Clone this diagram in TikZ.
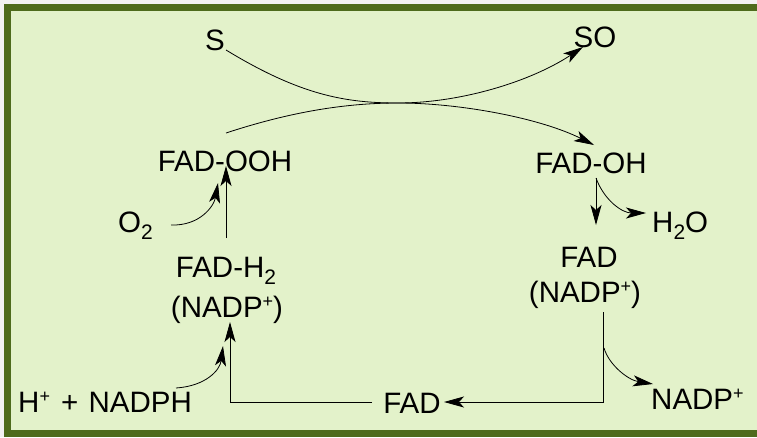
\documentclass[tikz,border=0pt]{standalone}
\usepackage{fontspec}
\setmainfont{Liberation Sans}
\usetikzlibrary{arrows.meta}
\definecolor{frameGreen}{HTML}{4E6B1C}
\definecolor{panelGreen}{HTML}{E3F2CA}
\definecolor{pageGray}{HTML}{F2F2F2}
\newcommand{\ionplus}{\raisebox{10pt}{\fontsize{18}{18}\selectfont +}}
\newcommand{\subtwo}{\raisebox{-7pt}{\fontsize{21}{21}\selectfont 2}}
\begin{document}
\begin{tikzpicture}[x=1pt,y=-1pt,
  species/.style={inner sep=0pt, anchor=base, font=\fontsize{29.5}{33}\selectfont},
  flow/.style={line width=0.8pt, -{Stealth[length=20pt,width=11pt,inset=5pt]}}]
  % page and panel: the frame is open on the right
  \useasboundingbox (0,0) rectangle (757,437);
  \fill[pageGray] (0,0) rectangle (757,437);
  \fill[panelGreen] (4,4) rectangle (757,437);
  \fill[frameGreen] (4,4) rectangle (757,11);
  \fill[frameGreen] (4,4) rectangle (11,437);
  \fill[frameGreen] (4,430) rectangle (757,437);

  % species
  \node[species] (s)      at (215,50)  {S};
  \node[species] (so)     at (595,47)  {SO};
  \node[species] (fadooh) at (225,171) {FAD-OOH};
  \node[species] (fadoh)  at (591,173) {FAD-OH};
  \node[species, anchor=base west] (water) at (652,232) {H\subtwo O};
  \node[species, anchor=base west] (oxy)   at (118,232) {O\subtwo};
  \node[species] (fadr)   at (589,267) {FAD};
  \node[species] (nadpr)  at (585,302) {(NADP\ionplus)};
  \node[species] (fadhh)  at (226,277) {FAD-H\subtwo};
  \node[species] (nadpl)  at (227,317) {(NADP\ionplus)};
  \node[species, anchor=base west] (nadph) at (18,412) {H\ionplus\hspace{3pt} +\hspace{2pt} NADPH};
  \node[species] (fadb)   at (412,413) {FAD};
  \node[species, anchor=base west] (nadpout) at (651,409) {NADP\ionplus};

  % junction and end points of the connectors
  \coordinate (sStart)   at (226,50);
  \coordinate (touch)    at (398,103);
  \coordinate (soEnd)    at (583,47);
  \coordinate (ooStart)  at (226,133);
  \coordinate (ohEnd)    at (594,145);
  \coordinate (hhTop)    at (226,238);
  \coordinate (ooBottom) at (226,166);
  \coordinate (oxyStart) at (171,225);
  \coordinate (oxyEnd)   at (218,183);
  \coordinate (ohDown)   at (596,178);
  \coordinate (fadTop)   at (596,225);
  \coordinate (waterEnd) at (646,213);
  \coordinate (rStart)   at (603,312);
  \coordinate (rCorner)  at (603,402);
  \coordinate (fadbR)    at (444,402);
  \coordinate (fadbL)    at (372,402);
  \coordinate (lCorner)  at (230,402);
  \coordinate (lEnd)     at (230,322);
  \coordinate (phStart)  at (176,388);
  \coordinate (phEnd)    at (223,346);
  \coordinate (outStart) at (604,348);
  \coordinate (outEnd)   at (653,384);

  % substrate oxidation, crossing the flavin path
  \draw[flow] (sStart) .. controls (300,95) and (345,103) .. (touch)
                      .. controls (460,103) and (530,82) .. (soEnd);
  \draw[flow] (ooStart) .. controls (290,112) and (345,103) .. (touch)
                       .. controls (460,103) and (540,118) .. (ohEnd);

  % left branch
  \draw[flow] (hhTop) -- (ooBottom);
  \draw[flow] (oxyStart) .. controls (200,226) and (214,206) .. (oxyEnd);

  % right branch
  \draw[flow] (ohDown) -- (fadTop);
  \draw[flow] (ohDown) .. controls (604,200) and (622,213) .. (waterEnd);

  % bottom return loop
  \draw[flow] (rStart) -- (rCorner) -- (fadbR);
  \draw[flow] (fadbL) -- (lCorner) -- (lEnd);
  \draw[flow] (phStart) .. controls (206,386) and (220,370) .. (phEnd);
  \draw[flow] (outStart) .. controls (609,365) and (628,380) .. (outEnd);
\end{tikzpicture}
\end{document}
